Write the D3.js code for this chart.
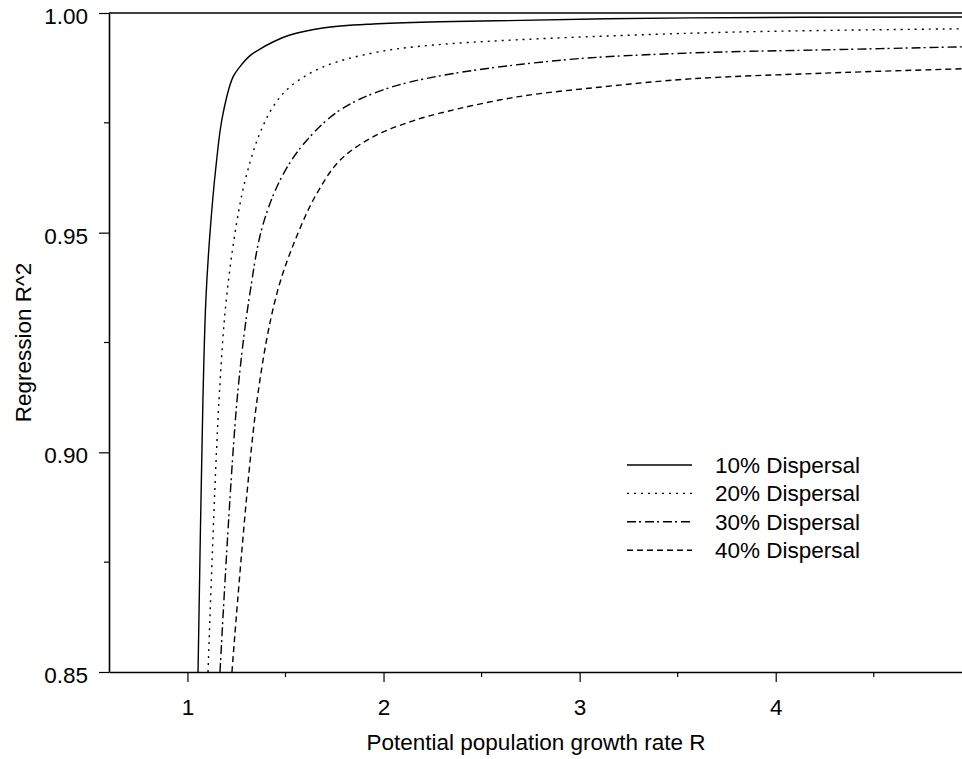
<!DOCTYPE html>
<html>
<head>
<meta charset="utf-8">
<script src="https://cdn.jsdelivr.net/npm/d3@7"></script>
<style>
	body { margin: 0; background: #fff; }
	svg text { font-family: 'Liberation Sans', Arial, sans-serif; fill: #000; }
</style>
</head>
<body>
<div id="chart"></div>
<script>
// Growth rate R (x) and regression R^2 (y)
const r10 = [1.054, 1.079, 1.094, 1.115, 1.145, 1.178, 1.232, 1.268, 1.319, 1.355, 1.436, 1.523, 1.691, 1.946, 2.288, 3.563, 4.95];
const rsq10 = [0.85, 0.9119, 0.9347, 0.9499, 0.9649, 0.9763, 0.9854, 0.9878, 0.9903, 0.9914, 0.9934, 0.995, 0.9966, 0.9975, 0.998, 0.9989, 0.9991];

const r20 = [1.105, 1.161, 1.202, 1.268, 1.319, 1.37, 1.436, 1.523, 1.691, 1.946, 2.252, 3.563, 4.95];
const rsq20 = [0.85, 0.9119, 0.9363, 0.9565, 0.966, 0.9727, 0.9786, 0.9832, 0.9877, 0.9909, 0.9927, 0.9954, 0.9964];

const r30 = [1.166, 1.253, 1.319, 1.385, 1.487, 1.61, 1.778, 1.997, 2.288, 2.915, 3.563, 4.241, 4.95];
const rsq30 = [0.85, 0.9119, 0.9363, 0.9518, 0.9632, 0.9711, 0.9779, 0.9825, 0.9857, 0.9893, 0.9909, 0.9916, 0.9923];

const r40 = [1.227, 1.355, 1.457, 1.564, 1.661, 1.778, 1.946, 2.12, 2.288, 2.681, 3.119, 3.563, 4.241, 4.95];
const rsq40 = [0.85, 0.9119, 0.9363, 0.9499, 0.959, 0.9665, 0.9718, 0.975, 0.9772, 0.9809, 0.9832, 0.985, 0.9863, 0.9873];

const seriesNames = ['10% Dispersal', '20% Dispersal', '30% Dispersal', '40% Dispersal'];
const seriesDash = [null, '2,5', '9,3,2,4', '6,4'];

const xMajor = [1, 2, 3, 4];
const xMinor = [1.5, 2.5, 3.5, 4.5];
const yMajor = [0.85, 0.9, 0.95, 1.0];
const yMinor = [0.875, 0.925, 0.975];

const series = [
	{ r: r10, rsq: rsq10 },
	{ r: r20, rsq: rsq20 },
	{ r: r30, rsq: rsq30 },
	{ r: r40, rsq: rsq40 },
].map((s, i) => ({
	name: seriesNames[i],
	dash: seriesDash[i],
	points: s.r.map((x, j) => ({ x, y: s.rsq[j] })),
}));

const W = 962, H = 759;
const plotLeft = 109, plotRight = 962, plotTop = 13, plotBottom = 672;

const svg = d3.select('#chart')
	.append('svg')
	.attr('width', W)
	.attr('height', H);

const x = d3.scaleLinear().domain([0.6, 4.95]).range([plotLeft, plotRight]);
const y = d3.scaleLinear().domain([0.85, 1.0]).range([plotBottom, plotTop]);

// clip the curves to the plot area
svg.append('clipPath')
	.attr('id', 'plot-clip')
	.append('rect')
	.attr('x', plotLeft)
	.attr('y', plotTop)
	.attr('width', plotRight - plotLeft)
	.attr('height', plotBottom - plotTop);

const line = d3.line()
	.x((d) => x(d.x))
	.y((d) => y(d.y))
	.curve(d3.curveCatmullRom.alpha(0.5));

svg.append('g')
	.attr('clip-path', 'url(#plot-clip)')
	.selectAll('path')
	.data(series)
	.enter()
	.append('path')
	.attr('d', (d) => line(d.points))
	.attr('fill', 'none')
	.attr('stroke', '#000')
	.attr('stroke-width', 1.4)
	.attr('stroke-dasharray', (d) => d.dash);

// axes
const fontSize = 22.5;

const xAxis = svg.append('g')
	.attr('transform', `translate(0,${plotBottom})`)
	.call(d3.axisBottom(x).tickValues(xMajor).tickSize(10).tickSizeOuter(0).tickFormat(d3.format('d')));
xAxis.select('.domain').attr('stroke-width', 1.6);
xAxis.selectAll('.tick line').attr('stroke-width', 1.2);
xAxis.selectAll('.tick text')
	.attr('y', 43)
	.attr('dy', null)
	.style('font-size', fontSize + 'px');

svg.append('g')
	.selectAll('line')
	.data(xMinor)
	.enter()
	.append('line')
	.attr('x1', (d) => x(d))
	.attr('x2', (d) => x(d))
	.attr('y1', plotBottom)
	.attr('y2', plotBottom + 5)
	.attr('stroke', '#000')
	.attr('stroke-width', 1.2);

const yAxis = svg.append('g')
	.attr('transform', `translate(${plotLeft},0)`)
	.call(d3.axisLeft(y).tickValues(yMajor).tickSize(10).tickSizeOuter(0).tickPadding(11).tickFormat(d3.format('.2f')));
yAxis.select('.domain').attr('stroke-width', 1.6);
yAxis.selectAll('.tick line').attr('stroke-width', 1.2);
yAxis.selectAll('.tick text')
	.attr('dy', '0.47em')
	.style('font-size', fontSize + 'px');

svg.append('g')
	.selectAll('line')
	.data(yMinor)
	.enter()
	.append('line')
	.attr('x1', plotLeft - 5)
	.attr('x2', plotLeft)
	.attr('y1', (d) => y(d))
	.attr('y2', (d) => y(d))
	.attr('stroke', '#000')
	.attr('stroke-width', 1.2);

// top frame line
svg.append('line')
	.attr('x1', plotLeft)
	.attr('x2', plotRight)
	.attr('y1', plotTop)
	.attr('y2', plotTop)
	.attr('stroke', '#000')
	.attr('stroke-width', 1.6);

// axis titles
svg.append('text')
	.attr('x', 536)
	.attr('y', 750)
	.attr('text-anchor', 'middle')
	.style('font-size', fontSize + 'px')
	.text('Potential population growth rate R');

svg.append('text')
	.attr('transform', `translate(31,${(plotTop + plotBottom) / 2}) rotate(-90)`)
	.attr('text-anchor', 'middle')
	.style('font-size', fontSize + 'px')
	.text('Regression R^2');

// legend
const legend = svg.append('g')
	.selectAll('g')
	.data(series)
	.enter()
	.append('g')
	.attr('transform', (d, i) => `translate(627,${465 + i * 28.4})`);

legend.append('line')
	.attr('x1', 0)
	.attr('x2', 65)
	.attr('stroke', '#000')
	.attr('stroke-width', 1.4)
	.attr('stroke-dasharray', (d) => d.dash);

legend.append('text')
	.attr('x', 88)
	.attr('y', 8)
	.style('font-size', fontSize + 'px')
	.text((d) => d.name);
</script>
</body>
</html>
